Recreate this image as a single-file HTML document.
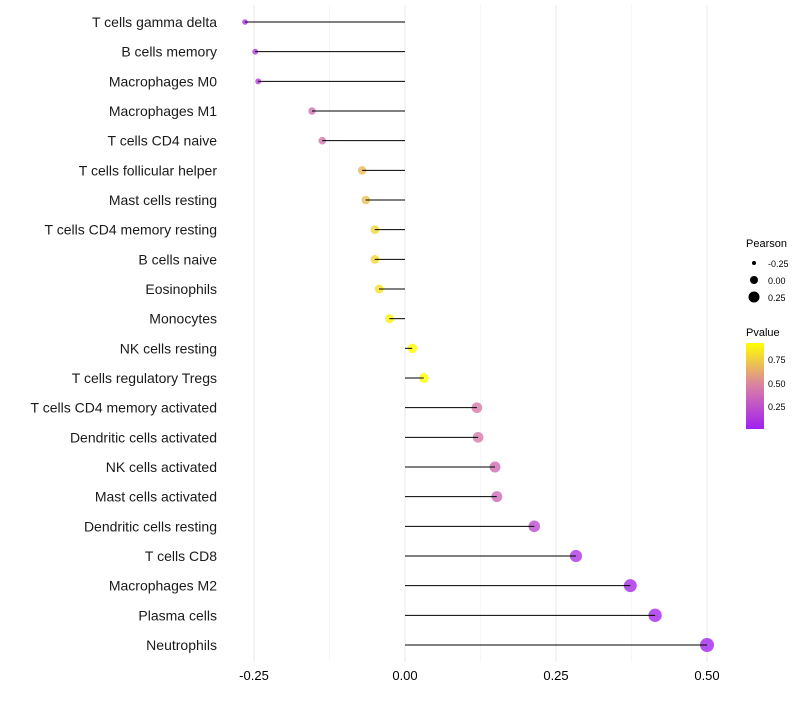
<!DOCTYPE html>
<html><head><meta charset="utf-8"><style>
body{margin:0;background:#fff;font-family:"Liberation Sans",sans-serif}
</style></head><body>
<svg id="chart" width="800" height="700" xmlns="http://www.w3.org/2000/svg">
<defs><linearGradient id="pg" x1="0" y1="1" x2="0" y2="0">
<stop offset="0" stop-color="#a020f0"/><stop offset="0.5" stop-color="#d97fa6"/><stop offset="1" stop-color="#ffff00"/>
</linearGradient></defs>
<g id="grid"></g><g id="dots"></g><g id="marks"></g><g id="labels"></g>
<g>
<text x="746" y="247" font-size="11" fill="#000">Pearson</text>
<circle cx="754" cy="263" r="2" fill="#000"/><text x="768" y="267" font-size="9">-0.25</text>
<circle cx="754" cy="280" r="4" fill="#000"/><text x="768" y="284" font-size="9">0.00</text>
<circle cx="754" cy="297" r="5.5" fill="#000"/><text x="768" y="301" font-size="9">0.25</text>
</g>
<g>
<text x="746" y="336" font-size="11" fill="#000">Pvalue</text>
<rect x="746" y="343" width="18" height="86" fill="url(#pg)"/>
<text x="768" y="363" font-size="9">0.75</text>
<text x="768" y="387" font-size="9">0.50</text>
<text x="768" y="410" font-size="9">0.25</text>
</g>
</svg>
<script>
const categories=["T cells gamma delta","B cells memory","Macrophages M0","Macrophages M1","T cells CD4 naive","T cells follicular helper","Mast cells resting","T cells CD4 memory resting","B cells naive","Eosinophils","Monocytes","NK cells resting","T cells regulatory  Tregs ","T cells CD4 memory activated","Dendritic cells activated","NK cells activated","Mast cells activated","Dendritic cells resting","T cells CD8","Macrophages M2","Plasma cells","Neutrophils"];
const pearson=[-0.265,-0.248,-0.243,-0.154,-0.137,-0.071,-0.065,-0.05,-0.05,-0.043,-0.026,0.012,0.031,0.119,0.121,0.149,0.152,0.214,0.283,0.373,0.414,0.5];
const pvalue=[0.1,0.15,0.15,0.4,0.42,0.68,0.7,0.78,0.78,0.82,0.88,0.97,0.93,0.45,0.45,0.38,0.37,0.22,0.12,0.06,0.05,0.03];
const xTicks=[-0.25,0,0.25,0.5];
const xTickLabels=["-0.25","0.00","0.25","0.50"];
const NS="http://www.w3.org/2000/svg";
const x=v=>405+v*604;
const y=i=>22+i*29.667;
const r=v=>Math.sqrt(Math.max(4,22+54*v));
function lerp(a,b,t){return a.map((c,k)=>Math.round(c+(b[k]-c)*t));}
function col(p){const lo=[160,32,240],mid=[217,127,166],hi=[255,255,0];
 const t=Math.min(1,Math.max(0,(p-0.01)/0.92));
 const c=t<0.5?lerp(lo,mid,t*2):lerp(mid,hi,(t-0.5)*2);return `rgb(${c})`;}
function mk(tag,a,parent){const e=document.createElementNS(NS,tag);for(const k in a)e.setAttribute(k,a[k]);document.getElementById(parent).appendChild(e);return e;}
[-0.125,0.125,0.375].forEach(v=>{const l=mk('line',{x1:x(v),x2:x(v),y1:5,y2:662,stroke:'#f2f2f2','stroke-width':0.6},'grid');

});
xTicks.forEach((v,i)=>{const l=mk('line',{x1:x(v),x2:x(v),y1:5,y2:662,stroke:'#ebebeb','stroke-width':1.1},'grid');


const t=mk('text',{x:x(v),y:680,'font-size':13,'text-anchor':'middle',fill:'#000'},'labels');t.textContent=xTickLabels[i];

});
categories.forEach((c,i)=>{
const d=mk('circle',{cx:x(pearson[i]),cy:y(i),r:r(pearson[i]),fill:col(pvalue[i]),'fill-opacity':0.8},'dots');


const l=mk('line',{x1:x(0),x2:x(pearson[i]),y1:y(i),y2:y(i),stroke:'#000','stroke-width':1},'marks');


const t=mk('text',{x:217,y:y(i)+5,'font-size':14,'text-anchor':'end',fill:'#1a1a1a','xml:space':'preserve'},'labels');t.textContent=c;


});
</script>
</body></html>
